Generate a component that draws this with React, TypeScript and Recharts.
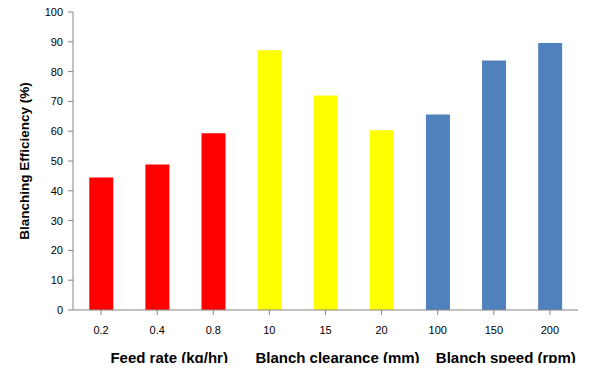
import React from 'react';
import { BarChart, Bar, XAxis, YAxis, Cell } from 'recharts';

const categories = ['0.2', '0.4', '0.8', '10', '15', '20', '100', '150', '200'];
const efficiency = [44.5, 48.8, 59.3, 87.2, 72.0, 60.3, 65.6, 83.7, 89.6];
const groupColors = ['#FF0000', '#FFFF00', '#4F81BD'];
const groupLabels = ['Feed rate (kg/hr)', 'Blanch clearance (mm)', 'Blanch speed (rpm)'];
const yTicks = [0, 10, 20, 30, 40, 50, 60, 70, 80, 90, 100];

const data = categories.map((name, i) => ({ name, value: efficiency[i], group: Math.floor(i / 3) }));

const FONT = '"Liberation Sans", Arial, sans-serif';

const CategoryTick = ({ x, y, payload, index }: any) => (
  <g>
    <text x={x} y={y + 4} textAnchor="middle" dominantBaseline="central" fontSize={11} fill="#000" fontFamily={FONT}>
      {payload.value}
    </text>
    {index % 3 === 1 && (
      <text x={x + 12} y={y + 31} textAnchor="middle" dominantBaseline="central" fontSize={15} fontWeight="bold" fill="#000" fontFamily={FONT}>
        {groupLabels[Math.floor(index / 3)]}
      </text>
    )}
  </g>
);

const App: React.FC = () => (
  <div style={{ margin: -8, width: 600, height: 371, background: '#fff' }}>
    <BarChart width={600} height={371} data={data} margin={{ top: 12, right: 22, left: 13, bottom: 6 }} barCategoryGap="29%">
      <XAxis
        dataKey="name"
        height={55}
        stroke="#868686"
        tickSize={5}
        tickMargin={11}
        tick={<CategoryTick />}
        interval={0}
      />
      <YAxis
        width={60}
        domain={[0, 100]}
        ticks={yTicks}
        stroke="#868686"
        tickSize={5}
        tickMargin={5}
        tick={{ fontSize: 11, fill: '#000', fontFamily: FONT }}
        label={{
          value: 'Blanching Efficiency (%)',
          angle: -90,
          position: 'insideLeft',
          offset: 11,
          style: { textAnchor: 'middle', fontSize: 13.5, fontWeight: 'bold', fill: '#000', fontFamily: FONT },
        }}
      />
      <Bar dataKey="value" isAnimationActive={false}>
        {data.map((d, i) => (
          <Cell key={i} fill={groupColors[d.group]} />
        ))}
      </Bar>
    </BarChart>
  </div>
);

export default App;
